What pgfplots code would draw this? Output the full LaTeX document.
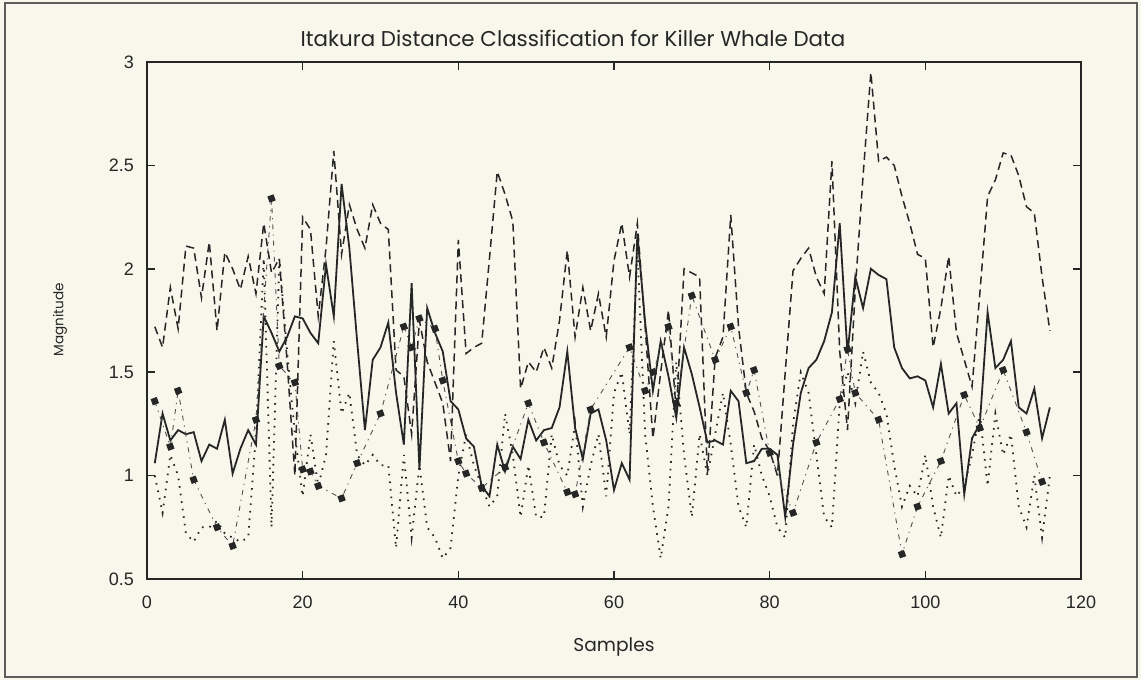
\documentclass[border=0pt]{standalone}
\usepackage{pgfplots}
\usepackage{pgfplotstable}
\pgfplotsset{compat=1.18}
\usepackage{fontspec}
\setmainfont{Poppins}
\newfontfamily\tickfont{Liberation Sans}
\definecolor{paper}{HTML}{F8F7EC}
\definecolor{ink}{HTML}{262626}

% sample, dashed, solid, dotted
\pgfplotstableread{
x   a     b     c
1   1.72  1.06  1.00
2   1.62  1.30  0.82
3   1.91  1.17  1.10
4   1.71  1.22  1.00
5   2.11  1.20  0.72
6   2.10  1.21  0.68
7   1.86  1.07  0.75
8   2.13  1.15  0.75
9   1.70  1.13  0.78
10  2.08  1.27  0.72
11  2.00  1.01  0.70
12  1.90  1.13  0.68
13  2.06  1.22  0.70
14  1.88  1.15  1.20
15  2.22  1.77  2.05
16  1.98  1.69  0.75
17  2.05  1.60  2.05
18  1.55  1.67  1.60
19  1.00  1.77  1.20
20  2.25  1.76  0.90
21  2.19  1.69  1.20
22  1.77  1.64  0.95
23  2.10  2.02  1.10
24  2.57  1.77  1.65
25  2.07  2.41  1.30
26  2.31  2.10  1.40
27  2.19  1.65  1.10
28  2.10  1.22  1.05
29  2.31  1.56  1.10
30  2.22  1.62  1.05
31  2.19  1.74  1.05
32  1.51  1.40  0.65
33  1.48  1.15  1.10
34  1.20  1.93  0.70
35  1.75  1.03  1.05
36  1.55  1.81  0.75
37  1.45  1.69  0.70
38  1.35  1.60  0.60
39  1.07  1.36  0.65
40  2.14  1.32  1.00
41  1.59  1.18  1.20
42  1.62  1.14  1.05
43  1.64  0.95  0.95
44  2.05  0.90  0.85
45  2.47  1.15  0.90
46  2.36  1.02  1.30
47  2.23  1.14  1.10
48  1.42  1.08  0.80
49  1.55  1.27  1.05
50  1.50  1.17  0.80
51  1.62  1.22  0.80
52  1.52  1.23  1.20
53  1.75  1.33  1.05
54  2.09  1.60  1.00
55  1.67  1.23  1.25
56  1.91  1.08  0.85
57  1.70  1.30  1.05
58  1.88  1.32  1.20
59  1.67  1.17  0.90
60  2.04  0.93  1.40
61  2.22  1.06  1.50
62  1.96  0.98  1.20
63  2.22  2.17  2.10
64  1.72  1.74  1.20
65  1.18  1.41  0.85
66  1.50  1.65  0.60
67  1.80  1.48  0.85
68  1.31  1.28  1.55
69  2.00  1.62  1.10
70  1.98  1.49  0.80
71  1.96  1.33  1.20
72  1.01  1.16  1.00
73  1.57  1.17  1.20
74  1.67  1.15  1.40
75  2.26  1.41  1.15
76  1.72  1.36  0.85
77  1.40  1.06  0.75
78  1.31  1.07  1.15
79  1.18  1.13  1.00
80  1.12  1.13  0.90
81  1.00  1.10  0.75
82  1.50  0.80  0.70
83  1.99  1.15  1.25
84  2.05  1.40  1.50
85  2.10  1.52  1.40
86  1.96  1.56  1.10
87  1.88  1.65  0.80
88  2.52  1.79  0.75
89  1.60  2.22  1.35
90  1.22  1.59  1.50
91  1.90  1.96  1.35
92  2.45  1.81  1.60
93  2.95  2.00  1.45
94  2.52  1.97  1.40
95  2.54  1.95  1.30
96  2.50  1.62  1.05
97  2.35  1.52  0.85
98  2.22  1.47  0.95
99  2.07  1.48  0.90
100 2.05  1.46  1.10
101 1.62  1.33  0.85
102 1.81  1.54  0.70
103 2.06  1.30  1.00
104 1.69  1.35  0.90
105 1.56  0.91  0.95
106 1.43  1.18  1.10
107 1.88  1.25  1.30
108 2.35  1.79  0.95
109 2.43  1.52  1.30
110 2.56  1.56  1.10
111 2.55  1.65  1.20
112 2.45  1.33  0.85
113 2.30  1.30  0.75
114 2.27  1.42  1.00
115 1.96  1.18  0.70
116 1.70  1.33  1.00
}\itakura

% dash-dot series
\pgfplotstableread{
x   d
1   1.36
3   1.14
4   1.41
6   0.98
9   0.75
11  0.66
14  1.27
16  2.34
17  1.53
19  1.45
20  1.03
21  1.02
22  0.95
25  0.89
27  1.06
30  1.30
33  1.72
34  1.62
35  1.76
37  1.71
38  1.46
40  1.07
41  1.01
43  0.94
46  1.04
49  1.35
51  1.16
54  0.92
55  0.91
57  1.32
62  1.62
64  1.41
65  1.50
67  1.72
68  1.35
70  1.87
73  1.56
75  1.72
77  1.40
78  1.51
80  1.11
83  0.82
86  1.16
89  1.37
90  1.61
91  1.40
94  1.27
97  0.62
99  0.85
102 1.07
105 1.39
107 1.23
110 1.51
113 1.21
115 0.97
}\itakuraD

\begin{document}
\begin{tikzpicture}
\fill[paper] (0pt,0pt) rectangle (570.5pt,340pt);
\draw[ink!75, line width=0.6pt] (2.5pt,1.5pt) rectangle (568.5pt,338.5pt);
\begin{axis}[
  at={(73.5pt,50.5pt)}, anchor=south west,
  scale only axis, width=467pt, height=258.5pt,
  xmin=0, xmax=120, ymin=0.5, ymax=3,
  xtick={0,20,...,120}, ytick={0.5,1,...,3},
  tick align=inside, major tick length=4pt,
  tick style={ink, line width=0.8pt},
  axis line style={ink, line width=0.8pt},
  ticklabel style={font=\tickfont\fontsize{9}{10}\selectfont, text=ink},
  /pgf/number format/assume math mode=true,
  xticklabel style={yshift=-5pt},
  yticklabel style={xshift=-3pt},
  clip=true,
]
\addplot[ink, line width=0.75pt, dash pattern=on 4pt off 2.5pt] table[x=x, y=a] {\itakura};
\addplot[ink, line width=0.9pt] table[x=x, y=b] {\itakura};
\addplot[ink, line width=0.9pt, dash pattern=on 0.8pt off 3pt] table[x=x, y=c] {\itakura};
\addplot[ink!80, line width=0.45pt, dash pattern=on 2.5pt off 2.5pt on 0.6pt off 2.5pt,
  mark=square*, mark size=1.4pt, mark options={solid, ink, rotate=20}] table[x=x, y=d] {\itakuraD};
\end{axis}
\node[font=\fontsize{10.7}{12}\selectfont, text=ink] at (286.5pt,321pt) {Itakura Distance Classification for Killer Whale Data};
\node[font=\fontsize{9.3}{11}\selectfont, text=ink] at (307pt,16.5pt) {Samples};
\node[font=\fontsize{6.8}{8}\selectfont, text=ink, rotate=90] at (30pt,180pt) {Magnitude};
\end{tikzpicture}
\end{document}
